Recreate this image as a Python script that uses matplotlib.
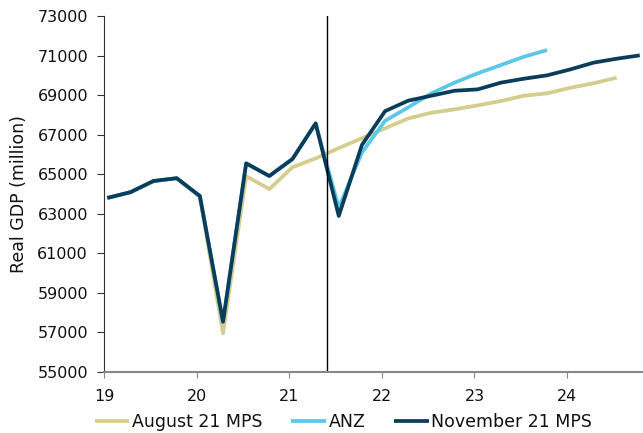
import matplotlib
matplotlib.use('Agg')
import matplotlib.pyplot as plt
import numpy as np

# quarterly GDP paths, 2019Q1 onwards (million)
august_mps = [63800, 64090, 64650, 64790, 63850, 56950, 64900, 64250, 65350, 65800,
              66320, 66820, 67320, 67820, 68110, 68280, 68480, 68700, 68970, 69090,
              69370, 69600, 69880]
anz = [63800, 64090, 64650, 64800, 63900, 57540, 65550, 64910, 65770, 67570,
       63300, 66100, 67700, 68380, 69090, 69630, 70100, 70520, 70940, 71280]
november_mps = [63800, 64090, 64660, 64800, 63900, 57540, 65550, 64910, 65770, 67570,
                62890, 66480, 68190, 68720, 68970, 69220, 69290, 69630, 69830, 70000,
                70300, 70640, 70840, 71010]

yticks = [55000, 57000, 59000, 61000, 63000, 65000, 67000, 69000, 71000, 73000]
xticks = [19, 20, 21, 22, 23, 24]
cutoff = 21.41

def quarters(series):
    return 19.035 + 0.25 * np.arange(len(series))

fig = plt.figure(figsize=(6.43, 4.33), dpi=100)
ax = fig.add_axes([104/643, 1 - 372/433, 1 - 104/643, (372 - 16)/433])

ax.plot(quarters(august_mps), august_mps, color='#D4CD8E', lw=2.7, label='August 21 MPS', solid_capstyle='butt')
ax.plot(quarters(anz), anz, color='#5CC8E8', lw=2.7, label='ANZ', solid_capstyle='butt')
ax.plot(quarters(november_mps), november_mps, color='#0B3D5B', lw=2.7, label='November 21 MPS', solid_capstyle='butt')
ax.axvline(cutoff, color='black', lw=1)

ax.set_xlim(19, 24.82)
ax.set_ylim(55000, 73000)
ax.set_yticks(yticks)
ax.set_yticklabels([str(v) for v in yticks])
ax.set_xticks(xticks)
ax.set_xticklabels([str(v) for v in xticks])
ax.tick_params(axis='y', labelsize=11.5, length=5, color='#333333', pad=6.5, labelcolor='#111111')
ax.tick_params(axis='x', labelsize=11.5, length=4, color='#888888', pad=8, labelcolor='#111111')
ax.spines['top'].set_visible(False)
ax.spines['right'].set_visible(False)
ax.spines['left'].set_color('#333333')
ax.spines['bottom'].set_color('#888888')
ax.spines['bottom'].set_linewidth(1.5)
ax.set_ylabel('Real GDP (million)', fontsize=12.5, labelpad=7, color='#111111')

fig.legend(loc='center', bbox_to_anchor=(0.534, 1 - 422/433), ncol=3, frameon=False,
           fontsize=12.5, handlelength=2.0, handletextpad=0.15, columnspacing=1.65,
           labelcolor='#111111')

fig.savefig('out.png', dpi=100)
